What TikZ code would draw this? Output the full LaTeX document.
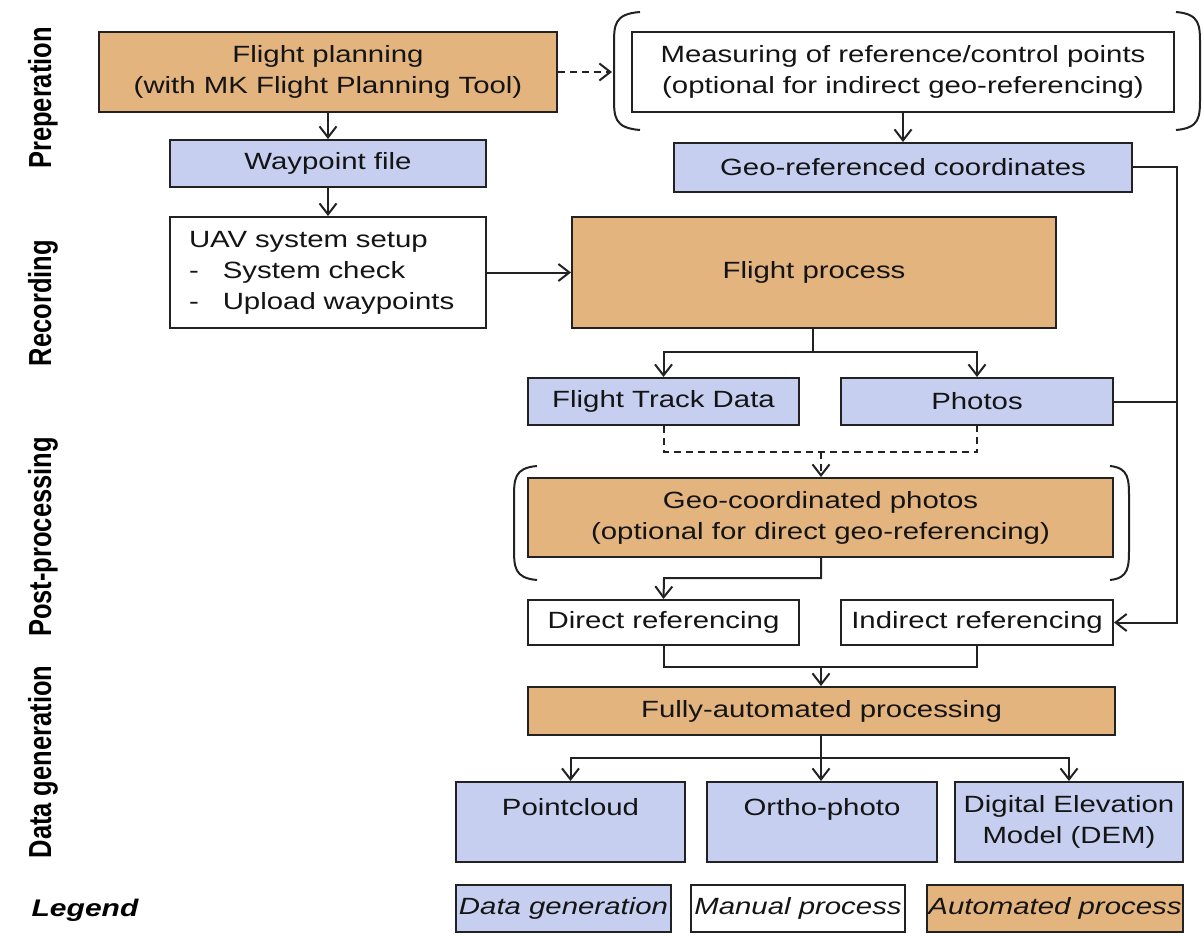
\documentclass[tikz,border=0pt]{standalone}
\usepackage{fontspec}
\setmainfont{Liberation Sans}[FakeStretch=1.25]
\newfontfamily\labfont{Liberation Sans}
\usetikzlibrary{arrows.meta,calc}
\definecolor{ofill}{HTML}{E4B47F}
\definecolor{bfill}{HTML}{C6CFF0}
\definecolor{edge}{HTML}{222222}
\begin{document}
\begin{tikzpicture}[x=1pt,y=-1pt,
  box/.style={draw=edge, line width=2pt, inner sep=0pt, align=center,
    text=black!92, font=\fontsize{23.5}{31}\selectfont},
  obox/.style={box, fill=ofill},
  bbox/.style={box, fill=bfill},
  wbox/.style={box, fill=white},
  arr/.style={line width=2pt, draw=edge, -{Straight Barb[length=11pt,width=17pt]}},
  conn/.style={line width=2pt, draw=edge},
  brk/.style={line width=2pt, draw=edge},
  sidelab/.style={font=\labfont\bfseries\fontsize{25.5}{30}\selectfont, rotate=90, transform shape, text=black}
]
\fill[white] (0,0) rectangle (1204,936);
\useasboundingbox (0,0) rectangle (1204,936);

% side labels
\begin{scope}[xscale=1.25]
  \node[sidelab] (lprep) at (43/1.25,98) {Preperation};
  \node[sidelab] (lrec) at (43/1.25,303) {Recording};
  \node[sidelab] (lpost) at (43/1.25,537) {Post-processing};
  \node[sidelab] (ldata) at (43/1.25,762) {Data generation};
\end{scope}
\node[font=\bfseries\itshape\fontsize{24}{29}\selectfont] (leg) at (85,910) {Legend};

% boxes
\node[obox, minimum width=458, minimum height=80] (fp) at (328,72)
  {Flight planning\\(with MK Flight Planning Tool)};
\node[wbox, minimum width=542, minimum height=80] (meas) at (903,72)
  {Measuring of reference/control points\\(optional for indirect geo-referencing)};
\node[bbox, minimum width=316, minimum height=47] (wp) at (328,163.5) {Waypoint file};
\node[bbox, minimum width=458, minimum height=49] (geo) at (903,167.5) {Geo-referenced coordinates};
\node[wbox, minimum width=316, minimum height=111, text width=278, align=left, inner xsep=19pt] (uav) at (328,272.5)
  {UAV system setup\\-\hspace{24pt}System check\\-\hspace{24pt}Upload waypoints};
\node[obox, minimum width=484, minimum height=111] (flp) at (814,272.5) {Flight process};
\node[bbox, minimum width=271, minimum height=47] (ftd) at (663.5,401.5) {Flight Track Data};
\node[bbox, minimum width=272, minimum height=47] (ph) at (977,401.5) {Photos};
\node[obox, minimum width=585, minimum height=79] (gcp) at (820.5,517.5)
  {Geo-coordinated photos\\(optional for direct geo-referencing)};
\node[wbox, minimum width=271, minimum height=45] (dr) at (663.5,622.5) {Direct referencing};
\node[wbox, minimum width=272, minimum height=45] (ir) at (977,622.5) {Indirect referencing};
\node[obox, minimum width=587, minimum height=48] (fap) at (821.5,711) {Fully-automated processing};
\node[bbox, minimum width=229, minimum height=80] (pc) at (570.5,822) {Pointcloud\\\mbox{}};
\node[bbox, minimum width=230, minimum height=80] (op) at (822,822) {Ortho-photo\\\mbox{}};
\node[bbox, minimum width=228, minimum height=80] (dem) at (1069,822) {Digital Elevation\\Model (DEM)};

% legend boxes
\node[bbox, minimum width=215, minimum height=47, font=\itshape\fontsize{23.5}{31}\selectfont] (lg1) at (563.5,908.5) {Data generation};
\node[wbox, minimum width=214, minimum height=47, font=\itshape\fontsize{23.5}{31}\selectfont] (lg2) at (798,908.5) {Manual process};
\node[obox, minimum width=256, minimum height=47, font=\itshape\fontsize{23.5}{31}\selectfont] (lg3) at (1055,908.5) {Automated process};

% brackets
\draw[brk] (640,12) .. controls (614,14) and (614,25) .. (614,45) -- (614,97) .. controls (614,117) and (614,128) .. (640,130);
\draw[brk] (1176,12) .. controls (1200,14) and (1200,25) .. (1200,45) -- (1200,97) .. controls (1200,117) and (1200,128) .. (1176,130);
\draw[brk] (537,466) .. controls (514,468) and (514,479) .. (514,499) -- (514,547) .. controls (514,567) and (514,578) .. (537,580);
\draw[brk] (1110,466) .. controls (1129,468) and (1129,479) .. (1129,499) -- (1129,547) .. controls (1129,567) and (1129,578) .. (1110,580);

% coordinates
\coordinate (bl) at (612,72);
\coordinate (j1) at (813,352);
\coordinate (j2) at (821,452);
\coordinate (j3) at (664,578);
\coordinate (j4) at (821,667);
\coordinate (j5) at (821,758);
\coordinate (rc) at (1177,622.5);

% connectors
\draw[arr] (fp) -- (wp);
\draw[arr] (wp) -- (uav);
\draw[arr, dash pattern=on 7pt off 5pt] (fp.east) -- (bl);
\draw[arr] (meas.south) -- (meas.south |- geo.north);
\draw[arr] (uav.east) -- (flp.west);
\draw[conn] (flp.south -| j1) -- (j1);
\draw[arr] (j1) -| (ftd.north);
\draw[arr] (j1) -| (ph.north);
\draw[conn, dash pattern=on 7pt off 5pt] (ftd.south) |- (j2) -| (ph.south);
\draw[arr, dash pattern=on 7pt off 5pt] (j2) -- (j2 |- gcp.north);
\draw[arr] (gcp.south -| j2) |- (j3) -- (dr.north);
\draw[conn] (dr.south) |- (j4) -| (ir.south);
\draw[arr] (j4) -- (j4 |- fap.north);
\draw[conn] (fap.south -| j5) -- (j5);
\draw[arr] (j5) -- (j5 |- op.north);
\draw[arr] (j5) -| (pc.north);
\draw[arr] (j5) -| (dem.north);
\draw[arr] (geo.east) -| (rc) -- (ir.east);
\draw[conn] (ph.east) -- (ph.east -| rc);
\end{tikzpicture}
\end{document}
